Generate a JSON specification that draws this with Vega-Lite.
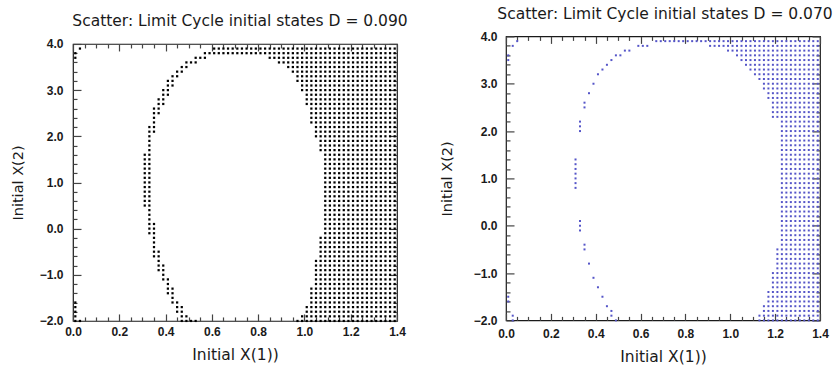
{
"$schema":"https://vega.github.io/schema/vega-lite/v6.json",
"padding":{"left":10,"top":6,"right":0,"bottom":0},
"spacing":29,
"center":true,
"config":{
"view":{"stroke":"#1a1a1a","strokeWidth":1.2},
"axis":{"grid":false,"domain":false,"ticks":true,"tickColor":"#444","tickWidth":1.2,"tickOpacity":1,"labelFont":"Liberation Sans","labelFontSize":12,"labelFontWeight":"bold","labelColor":"#1a1a1a","labelFlush":false,"labelOverlap":false,"titleFont":"DejaVu Sans","titleFontWeight":"normal","titleColor":"#1a1a1a","titleFontSize":15.5},
"title":{"font":"DejaVu Sans","fontSize":15.5,"fontWeight":"normal","color":"#1a1a1a","anchor":"middle"}
},
"datasets":{
"none":[],
"L":[
{"y":3.9,"x":[0.03,0.61,0.63,0.65,0.67,0.69,0.71,0.73,0.75,0.77,0.79,0.81,0.83,0.85,0.87,0.89,0.91,0.93,0.95,0.97,0.99,1.01,1.03,1.05,1.07,1.09,1.11,1.13,1.15,1.17,1.19,1.21,1.23,1.25,1.27,1.29,1.31,1.33,1.35,1.37,1.39]},
{"y":3.8,"x":[0.01,0.57,0.59,0.61,0.63,0.65,0.67,0.69,0.71,0.73,0.75,0.77,0.79,0.81,0.83,0.85,0.87,0.89,0.91,0.93,0.95,0.97,0.99,1.01,1.03,1.05,1.07,1.09,1.11,1.13,1.15,1.17,1.19,1.21,1.23,1.25,1.27,1.29,1.31,1.33,1.35,1.37,1.39]},
{"y":3.7,"x":[0.01,0.53,0.55,0.57,0.85,0.87,0.89,0.91,0.93,0.95,0.97,0.99,1.01,1.03,1.05,1.07,1.09,1.11,1.13,1.15,1.17,1.19,1.21,1.23,1.25,1.27,1.29,1.31,1.33,1.35,1.37,1.39]},
{"y":3.6,"x":[0.49,0.51,0.53,0.89,0.91,0.93,0.95,0.97,0.99,1.01,1.03,1.05,1.07,1.09,1.11,1.13,1.15,1.17,1.19,1.21,1.23,1.25,1.27,1.29,1.31,1.33,1.35,1.37,1.39]},
{"y":3.5,"x":[0.47,0.49,0.93,0.95,0.97,0.99,1.01,1.03,1.05,1.07,1.09,1.11,1.13,1.15,1.17,1.19,1.21,1.23,1.25,1.27,1.29,1.31,1.33,1.35,1.37,1.39]},
{"y":3.4,"x":[0.45,0.47,0.95,0.97,0.99,1.01,1.03,1.05,1.07,1.09,1.11,1.13,1.15,1.17,1.19,1.21,1.23,1.25,1.27,1.29,1.31,1.33,1.35,1.37,1.39]},
{"y":3.3,"x":[0.43,0.45,0.97,0.99,1.01,1.03,1.05,1.07,1.09,1.11,1.13,1.15,1.17,1.19,1.21,1.23,1.25,1.27,1.29,1.31,1.33,1.35,1.37,1.39]},
{"y":3.2,"x":[0.41,0.43,0.97,0.99,1.01,1.03,1.05,1.07,1.09,1.11,1.13,1.15,1.17,1.19,1.21,1.23,1.25,1.27,1.29,1.31,1.33,1.35,1.37,1.39]},
{"y":3.1,"x":[0.41,0.43,0.99,1.01,1.03,1.05,1.07,1.09,1.11,1.13,1.15,1.17,1.19,1.21,1.23,1.25,1.27,1.29,1.31,1.33,1.35,1.37,1.39]},
{"y":3.0,"x":[0.39,0.41,0.99,1.01,1.03,1.05,1.07,1.09,1.11,1.13,1.15,1.17,1.19,1.21,1.23,1.25,1.27,1.29,1.31,1.33,1.35,1.37,1.39]},
{"y":2.9,"x":[0.39,0.41,1.01,1.03,1.05,1.07,1.09,1.11,1.13,1.15,1.17,1.19,1.21,1.23,1.25,1.27,1.29,1.31,1.33,1.35,1.37,1.39]},
{"y":2.8,"x":[0.37,0.39,1.01,1.03,1.05,1.07,1.09,1.11,1.13,1.15,1.17,1.19,1.21,1.23,1.25,1.27,1.29,1.31,1.33,1.35,1.37,1.39]},
{"y":2.7,"x":[0.37,0.39,1.01,1.03,1.05,1.07,1.09,1.11,1.13,1.15,1.17,1.19,1.21,1.23,1.25,1.27,1.29,1.31,1.33,1.35,1.37,1.39]},
{"y":2.6,"x":[0.35,0.37,1.03,1.05,1.07,1.09,1.11,1.13,1.15,1.17,1.19,1.21,1.23,1.25,1.27,1.29,1.31,1.33,1.35,1.37,1.39]},
{"y":2.5,"x":[0.35,0.37,1.03,1.05,1.07,1.09,1.11,1.13,1.15,1.17,1.19,1.21,1.23,1.25,1.27,1.29,1.31,1.33,1.35,1.37,1.39]},
{"y":2.4,"x":[0.35,1.03,1.05,1.07,1.09,1.11,1.13,1.15,1.17,1.19,1.21,1.23,1.25,1.27,1.29,1.31,1.33,1.35,1.37,1.39]},
{"y":2.3,"x":[0.35,1.03,1.05,1.07,1.09,1.11,1.13,1.15,1.17,1.19,1.21,1.23,1.25,1.27,1.29,1.31,1.33,1.35,1.37,1.39]},
{"y":2.2,"x":[0.33,0.35,1.05,1.07,1.09,1.11,1.13,1.15,1.17,1.19,1.21,1.23,1.25,1.27,1.29,1.31,1.33,1.35,1.37,1.39]},
{"y":2.1,"x":[0.33,0.35,1.05,1.07,1.09,1.11,1.13,1.15,1.17,1.19,1.21,1.23,1.25,1.27,1.29,1.31,1.33,1.35,1.37,1.39]},
{"y":2.0,"x":[0.33,1.05,1.07,1.09,1.11,1.13,1.15,1.17,1.19,1.21,1.23,1.25,1.27,1.29,1.31,1.33,1.35,1.37,1.39]},
{"y":1.9,"x":[0.33,1.07,1.09,1.11,1.13,1.15,1.17,1.19,1.21,1.23,1.25,1.27,1.29,1.31,1.33,1.35,1.37,1.39]},
{"y":1.8,"x":[0.33,1.07,1.09,1.11,1.13,1.15,1.17,1.19,1.21,1.23,1.25,1.27,1.29,1.31,1.33,1.35,1.37,1.39]},
{"y":1.7,"x":[0.33,1.07,1.09,1.11,1.13,1.15,1.17,1.19,1.21,1.23,1.25,1.27,1.29,1.31,1.33,1.35,1.37,1.39]},
{"y":1.6,"x":[0.31,0.33,1.09,1.11,1.13,1.15,1.17,1.19,1.21,1.23,1.25,1.27,1.29,1.31,1.33,1.35,1.37,1.39]},
{"y":1.5,"x":[0.31,0.33,1.09,1.11,1.13,1.15,1.17,1.19,1.21,1.23,1.25,1.27,1.29,1.31,1.33,1.35,1.37,1.39]},
{"y":1.4,"x":[0.31,0.33,1.09,1.11,1.13,1.15,1.17,1.19,1.21,1.23,1.25,1.27,1.29,1.31,1.33,1.35,1.37,1.39]},
{"y":1.3,"x":[0.31,0.33,1.09,1.11,1.13,1.15,1.17,1.19,1.21,1.23,1.25,1.27,1.29,1.31,1.33,1.35,1.37,1.39]},
{"y":1.2,"x":[0.31,0.33,1.09,1.11,1.13,1.15,1.17,1.19,1.21,1.23,1.25,1.27,1.29,1.31,1.33,1.35,1.37,1.39]},
{"y":1.1,"x":[0.31,0.33,1.09,1.11,1.13,1.15,1.17,1.19,1.21,1.23,1.25,1.27,1.29,1.31,1.33,1.35,1.37,1.39]},
{"y":1.0,"x":[0.31,0.33,1.09,1.11,1.13,1.15,1.17,1.19,1.21,1.23,1.25,1.27,1.29,1.31,1.33,1.35,1.37,1.39]},
{"y":0.9,"x":[0.31,0.33,1.09,1.11,1.13,1.15,1.17,1.19,1.21,1.23,1.25,1.27,1.29,1.31,1.33,1.35,1.37,1.39]},
{"y":0.8,"x":[0.31,0.33,1.09,1.11,1.13,1.15,1.17,1.19,1.21,1.23,1.25,1.27,1.29,1.31,1.33,1.35,1.37,1.39]},
{"y":0.7,"x":[0.31,0.33,1.09,1.11,1.13,1.15,1.17,1.19,1.21,1.23,1.25,1.27,1.29,1.31,1.33,1.35,1.37,1.39]},
{"y":0.6,"x":[0.31,0.33,1.09,1.11,1.13,1.15,1.17,1.19,1.21,1.23,1.25,1.27,1.29,1.31,1.33,1.35,1.37,1.39]},
{"y":0.5,"x":[0.31,0.33,1.09,1.11,1.13,1.15,1.17,1.19,1.21,1.23,1.25,1.27,1.29,1.31,1.33,1.35,1.37,1.39]},
{"y":0.4,"x":[0.33,1.09,1.11,1.13,1.15,1.17,1.19,1.21,1.23,1.25,1.27,1.29,1.31,1.33,1.35,1.37,1.39]},
{"y":0.3,"x":[0.33,1.09,1.11,1.13,1.15,1.17,1.19,1.21,1.23,1.25,1.27,1.29,1.31,1.33,1.35,1.37,1.39]},
{"y":0.2,"x":[0.33,1.09,1.11,1.13,1.15,1.17,1.19,1.21,1.23,1.25,1.27,1.29,1.31,1.33,1.35,1.37,1.39]},
{"y":0.1,"x":[0.33,0.35,1.09,1.11,1.13,1.15,1.17,1.19,1.21,1.23,1.25,1.27,1.29,1.31,1.33,1.35,1.37,1.39]},
{"y":0,"x":[0.33,0.35,1.09,1.11,1.13,1.15,1.17,1.19,1.21,1.23,1.25,1.27,1.29,1.31,1.33,1.35,1.37,1.39]},
{"y":-0.1,"x":[0.33,0.35,1.09,1.11,1.13,1.15,1.17,1.19,1.21,1.23,1.25,1.27,1.29,1.31,1.33,1.35,1.37,1.39]},
{"y":-0.2,"x":[0.35,1.07,1.09,1.11,1.13,1.15,1.17,1.19,1.21,1.23,1.25,1.27,1.29,1.31,1.33,1.35,1.37,1.39]},
{"y":-0.3,"x":[0.35,1.07,1.09,1.11,1.13,1.15,1.17,1.19,1.21,1.23,1.25,1.27,1.29,1.31,1.33,1.35,1.37,1.39]},
{"y":-0.4,"x":[0.35,1.07,1.09,1.11,1.13,1.15,1.17,1.19,1.21,1.23,1.25,1.27,1.29,1.31,1.33,1.35,1.37,1.39]},
{"y":-0.5,"x":[0.35,0.37,1.07,1.09,1.11,1.13,1.15,1.17,1.19,1.21,1.23,1.25,1.27,1.29,1.31,1.33,1.35,1.37,1.39]},
{"y":-0.6,"x":[0.35,0.37,1.07,1.09,1.11,1.13,1.15,1.17,1.19,1.21,1.23,1.25,1.27,1.29,1.31,1.33,1.35,1.37,1.39]},
{"y":-0.7,"x":[0.37,1.05,1.07,1.09,1.11,1.13,1.15,1.17,1.19,1.21,1.23,1.25,1.27,1.29,1.31,1.33,1.35,1.37,1.39]},
{"y":-0.8,"x":[0.37,0.39,1.05,1.07,1.09,1.11,1.13,1.15,1.17,1.19,1.21,1.23,1.25,1.27,1.29,1.31,1.33,1.35,1.37,1.39]},
{"y":-0.9,"x":[0.37,0.39,1.05,1.07,1.09,1.11,1.13,1.15,1.17,1.19,1.21,1.23,1.25,1.27,1.29,1.31,1.33,1.35,1.37,1.39]},
{"y":-1.0,"x":[0.39,1.05,1.07,1.09,1.11,1.13,1.15,1.17,1.19,1.21,1.23,1.25,1.27,1.29,1.31,1.33,1.35,1.37,1.39]},
{"y":-1.1,"x":[0.39,0.41,1.05,1.07,1.09,1.11,1.13,1.15,1.17,1.19,1.21,1.23,1.25,1.27,1.29,1.31,1.33,1.35,1.37,1.39]},
{"y":-1.2,"x":[0.41,1.05,1.07,1.09,1.11,1.13,1.15,1.17,1.19,1.21,1.23,1.25,1.27,1.29,1.31,1.33,1.35,1.37,1.39]},
{"y":-1.3,"x":[0.41,0.43,1.03,1.05,1.07,1.09,1.11,1.13,1.15,1.17,1.19,1.21,1.23,1.25,1.27,1.29,1.31,1.33,1.35,1.37,1.39]},
{"y":-1.4,"x":[0.41,0.43,1.03,1.05,1.07,1.09,1.11,1.13,1.15,1.17,1.19,1.21,1.23,1.25,1.27,1.29,1.31,1.33,1.35,1.37,1.39]},
{"y":-1.5,"x":[0.43,1.03,1.05,1.07,1.09,1.11,1.13,1.15,1.17,1.19,1.21,1.23,1.25,1.27,1.29,1.31,1.33,1.35,1.37,1.39]},
{"y":-1.6,"x":[0.01,0.43,0.45,1.03,1.05,1.07,1.09,1.11,1.13,1.15,1.17,1.19,1.21,1.23,1.25,1.27,1.29,1.31,1.33,1.35,1.37,1.39]},
{"y":-1.7,"x":[0.01,0.45,0.47,1.01,1.03,1.05,1.07,1.09,1.11,1.13,1.15,1.17,1.19,1.21,1.23,1.25,1.27,1.29,1.31,1.33,1.35,1.37,1.39]},
{"y":-1.8,"x":[0.01,0.45,0.47,1.01,1.03,1.05,1.07,1.09,1.11,1.13,1.15,1.17,1.19,1.21,1.23,1.25,1.27,1.29,1.31,1.33,1.35,1.37,1.39]},
{"y":-1.9,"x":[0.01,0.47,0.49,0.99,1.01,1.03,1.05,1.07,1.09,1.11,1.13,1.15,1.17,1.19,1.21,1.23,1.25,1.27,1.29,1.31,1.33,1.35,1.37,1.39]},
{"y":-2.0,"x":[0.01,0.03,0.47,0.49,0.51,0.53,0.97,0.99,1.01,1.03,1.05,1.07,1.09,1.11,1.13,1.15,1.17,1.19,1.21,1.23,1.25,1.27,1.29,1.31,1.33,1.35,1.37,1.39]}
],
"R":[
{"y":3.9,"x":[0.05,0.67,0.69,0.71,0.73,0.75,0.77,0.79,0.81,0.83,0.85,0.87,0.89,0.91,0.93,0.95,0.97,0.99,1.01,1.03,1.05,1.07,1.09,1.11,1.13,1.15,1.17,1.19,1.21,1.23,1.25,1.27,1.29,1.31,1.33,1.35,1.37,1.39]},
{"y":3.8,"x":[0.03,0.59,0.61,0.63,0.91,0.93,0.95,0.97,0.99,1.01,1.03,1.05,1.07,1.09,1.11,1.13,1.15,1.17,1.19,1.21,1.23,1.25,1.27,1.29,1.31,1.33,1.35,1.37,1.39]},
{"y":3.7,"x":[0.53,0.55,0.99,1.01,1.03,1.05,1.07,1.09,1.11,1.13,1.15,1.17,1.19,1.21,1.23,1.25,1.27,1.29,1.31,1.33,1.35,1.37,1.39]},
{"y":3.6,"x":[0.01,0.49,0.51,1.03,1.05,1.07,1.09,1.11,1.13,1.15,1.17,1.19,1.21,1.23,1.25,1.27,1.29,1.31,1.33,1.35,1.37,1.39]},
{"y":3.5,"x":[0.01,0.47,1.05,1.07,1.09,1.11,1.13,1.15,1.17,1.19,1.21,1.23,1.25,1.27,1.29,1.31,1.33,1.35,1.37,1.39]},
{"y":3.4,"x":[0.45,1.07,1.09,1.11,1.13,1.15,1.17,1.19,1.21,1.23,1.25,1.27,1.29,1.31,1.33,1.35,1.37,1.39]},
{"y":3.3,"x":[0.43,1.09,1.11,1.13,1.15,1.17,1.19,1.21,1.23,1.25,1.27,1.29,1.31,1.33,1.35,1.37,1.39]},
{"y":3.2,"x":[0.41,1.11,1.13,1.15,1.17,1.19,1.21,1.23,1.25,1.27,1.29,1.31,1.33,1.35,1.37,1.39]},
{"y":3.1,"x":[1.13,1.15,1.17,1.19,1.21,1.23,1.25,1.27,1.29,1.31,1.33,1.35,1.37,1.39]},
{"y":3.0,"x":[0.39,1.15,1.17,1.19,1.21,1.23,1.25,1.27,1.29,1.31,1.33,1.35,1.37,1.39]},
{"y":2.9,"x":[1.15,1.17,1.19,1.21,1.23,1.25,1.27,1.29,1.31,1.33,1.35,1.37,1.39]},
{"y":2.8,"x":[0.37,1.17,1.19,1.21,1.23,1.25,1.27,1.29,1.31,1.33,1.35,1.37,1.39]},
{"y":2.7,"x":[1.17,1.19,1.21,1.23,1.25,1.27,1.29,1.31,1.33,1.35,1.37,1.39]},
{"y":2.6,"x":[0.35,1.19,1.21,1.23,1.25,1.27,1.29,1.31,1.33,1.35,1.37,1.39]},
{"y":2.5,"x":[0.35,1.19,1.21,1.23,1.25,1.27,1.29,1.31,1.33,1.35,1.37,1.39]},
{"y":2.4,"x":[1.19,1.21,1.23,1.25,1.27,1.29,1.31,1.33,1.35,1.37,1.39]},
{"y":2.3,"x":[1.19,1.21,1.23,1.25,1.27,1.29,1.31,1.33,1.35,1.37,1.39]},
{"y":2.2,"x":[0.33,1.23,1.25,1.27,1.29,1.31,1.33,1.35,1.37,1.39]},
{"y":2.1,"x":[0.33,1.23,1.25,1.27,1.29,1.31,1.33,1.35,1.37,1.39]},
{"y":2.0,"x":[0.33,1.23,1.25,1.27,1.29,1.31,1.33,1.35,1.37,1.39]},
{"y":1.9,"x":[1.23,1.25,1.27,1.29,1.31,1.33,1.35,1.37,1.39]},
{"y":1.8,"x":[1.23,1.25,1.27,1.29,1.31,1.33,1.35,1.37,1.39]},
{"y":1.7,"x":[1.23,1.25,1.27,1.29,1.31,1.33,1.35,1.37,1.39]},
{"y":1.6,"x":[1.23,1.25,1.27,1.29,1.31,1.33,1.35,1.37,1.39]},
{"y":1.5,"x":[1.23,1.25,1.27,1.29,1.31,1.33,1.35,1.37,1.39]},
{"y":1.4,"x":[0.31,1.23,1.25,1.27,1.29,1.31,1.33,1.35,1.37,1.39]},
{"y":1.3,"x":[0.31,1.23,1.25,1.27,1.29,1.31,1.33,1.35,1.37,1.39]},
{"y":1.2,"x":[0.31,1.23,1.25,1.27,1.29,1.31,1.33,1.35,1.37,1.39]},
{"y":1.1,"x":[0.31,1.23,1.25,1.27,1.29,1.31,1.33,1.35,1.37,1.39]},
{"y":1.0,"x":[0.31,1.23,1.25,1.27,1.29,1.31,1.33,1.35,1.37,1.39]},
{"y":0.9,"x":[0.31,1.23,1.25,1.27,1.29,1.31,1.33,1.35,1.37,1.39]},
{"y":0.8,"x":[0.31,1.23,1.25,1.27,1.29,1.31,1.33,1.35,1.37,1.39]},
{"y":0.7,"x":[1.23,1.25,1.27,1.29,1.31,1.33,1.35,1.37,1.39]},
{"y":0.6,"x":[1.23,1.25,1.27,1.29,1.31,1.33,1.35,1.37,1.39]},
{"y":0.5,"x":[1.23,1.25,1.27,1.29,1.31,1.33,1.35,1.37,1.39]},
{"y":0.4,"x":[1.23,1.25,1.27,1.29,1.31,1.33,1.35,1.37,1.39]},
{"y":0.3,"x":[1.23,1.25,1.27,1.29,1.31,1.33,1.35,1.37,1.39]},
{"y":0.2,"x":[1.23,1.25,1.27,1.29,1.31,1.33,1.35,1.37,1.39]},
{"y":0.1,"x":[0.33,1.23,1.25,1.27,1.29,1.31,1.33,1.35,1.37,1.39]},
{"y":0,"x":[0.33,1.23,1.25,1.27,1.29,1.31,1.33,1.35,1.37,1.39]},
{"y":-0.1,"x":[0.33,1.23,1.25,1.27,1.29,1.31,1.33,1.35,1.37,1.39]},
{"y":-0.2,"x":[1.23,1.25,1.27,1.29,1.31,1.33,1.35,1.37,1.39]},
{"y":-0.3,"x":[1.23,1.25,1.27,1.29,1.31,1.33,1.35,1.37,1.39]},
{"y":-0.4,"x":[0.35,1.23,1.25,1.27,1.29,1.31,1.33,1.35,1.37,1.39]},
{"y":-0.5,"x":[0.35,1.21,1.23,1.25,1.27,1.29,1.31,1.33,1.35,1.37,1.39]},
{"y":-0.6,"x":[1.21,1.23,1.25,1.27,1.29,1.31,1.33,1.35,1.37,1.39]},
{"y":-0.7,"x":[1.21,1.23,1.25,1.27,1.29,1.31,1.33,1.35,1.37,1.39]},
{"y":-0.8,"x":[0.37,1.21,1.23,1.25,1.27,1.29,1.31,1.33,1.35,1.37,1.39]},
{"y":-0.9,"x":[1.21,1.23,1.25,1.27,1.29,1.31,1.33,1.35,1.37,1.39]},
{"y":-1.0,"x":[1.19,1.21,1.23,1.25,1.27,1.29,1.31,1.33,1.35,1.37,1.39]},
{"y":-1.1,"x":[0.39,1.19,1.21,1.23,1.25,1.27,1.29,1.31,1.33,1.35,1.37,1.39]},
{"y":-1.2,"x":[1.19,1.21,1.23,1.25,1.27,1.29,1.31,1.33,1.35,1.37,1.39]},
{"y":-1.3,"x":[0.41,1.19,1.21,1.23,1.25,1.27,1.29,1.31,1.33,1.35,1.37,1.39]},
{"y":-1.4,"x":[1.17,1.19,1.21,1.23,1.25,1.27,1.29,1.31,1.33,1.35,1.37,1.39]},
{"y":-1.5,"x":[0.01,0.43,1.17,1.19,1.21,1.23,1.25,1.27,1.29,1.31,1.33,1.35,1.37,1.39]},
{"y":-1.6,"x":[0.01,1.17,1.19,1.21,1.23,1.25,1.27,1.29,1.31,1.33,1.35,1.37,1.39]},
{"y":-1.7,"x":[0.45,1.15,1.17,1.19,1.21,1.23,1.25,1.27,1.29,1.31,1.33,1.35,1.37,1.39]},
{"y":-1.8,"x":[0.47,1.15,1.17,1.19,1.21,1.23,1.25,1.27,1.29,1.31,1.33,1.35,1.37,1.39]},
{"y":-1.9,"x":[0.03,0.47,1.13,1.15,1.17,1.19,1.21,1.23,1.25,1.27,1.29,1.31,1.33,1.35,1.37,1.39]},
{"y":-2.0,"x":[0.03,0.49,1.13,1.15,1.17,1.19,1.21,1.23,1.25,1.27,1.29,1.31,1.33,1.35,1.37,1.39]}
]
},
"hconcat":[
{
"width":324,"height":277,
"title":{"text":"Scatter: Limit Cycle initial states D = 0.090","offset":8,"dx":5},
"resolve":{"axis":{"x":"independent","y":"independent"}},
"layer":[
{"data":{"name":"L"},"transform":[{"flatten":["x"]}],
"mark":{"type":"square","size":5,"color":"#000","opacity":1},
"encoding":{
"x":{"field":"x","type":"quantitative","scale":{"domain":[0,1.4],"nice":false,"zero":false},"axis":{"orient":"bottom","offset":-7,"tickSize":7,"values":[0,0.2,0.4,0.6,0.8,1,1.2,1.4],"format":".1f","labelPadding":6,"title":"Initial X(1))","titlePadding":10}},
"y":{"field":"y","type":"quantitative","scale":{"domain":[-2,4],"nice":false,"zero":false},"axis":{"orient":"left","offset":-8,"tickSize":8,"values":[-2,-1,0,1,2,3,4],"format":".1f","labelPadding":10,"title":"Initial X(2)","titlePadding":13.5,"titleFontSize":14.5}}
}},
{"data":{"name":"none"},"mark":"point",
"encoding":{
"x":{"field":"x","type":"quantitative","scale":{"domain":[0,1.4],"nice":false,"zero":false},"axis":{"orient":"bottom","offset":-4,"tickSize":4,"values":[0.05,0.1,0.15,0.25,0.3,0.35,0.45,0.5,0.55,0.65,0.7,0.75,0.85,0.9,0.95,1.05,1.1,1.15,1.25,1.3,1.35],"labels":false,"title":null}},
"y":{"field":"y","type":"quantitative","scale":{"domain":[-2,4],"nice":false,"zero":false},"axis":{"orient":"left","offset":-4,"tickSize":4,"values":[-1.8,-1.6,-1.4,-1.2,-0.8,-0.6,-0.4,-0.2,0.2,0.4,0.6,0.8,1.2,1.4,1.6,1.8,2.2,2.4,2.6,2.8,3.2,3.4,3.6,3.8],"labels":false,"title":null}}
}},
{"data":{"name":"none"},"mark":"point",
"encoding":{
"x":{"field":"x","type":"quantitative","scale":{"domain":[0,1.4],"nice":false,"zero":false},"axis":{"orient":"top","offset":-7,"tickSize":7,"values":[0,0.2,0.4,0.6,0.8,1,1.2,1.4],"labels":false,"title":null}},
"y":{"field":"y","type":"quantitative","scale":{"domain":[-2,4],"nice":false,"zero":false},"axis":{"orient":"right","offset":-8,"tickSize":8,"values":[-2,-1,0,1,2,3,4],"labels":false,"title":null}}
}},
{"data":{"name":"none"},"mark":"point",
"encoding":{
"x":{"field":"x","type":"quantitative","scale":{"domain":[0,1.4],"nice":false,"zero":false},"axis":{"orient":"top","offset":-4,"tickSize":4,"values":[0.05,0.1,0.15,0.25,0.3,0.35,0.45,0.5,0.55,0.65,0.7,0.75,0.85,0.9,0.95,1.05,1.1,1.15,1.25,1.3,1.35],"labels":false,"title":null}},
"y":{"field":"y","type":"quantitative","scale":{"domain":[-2,4],"nice":false,"zero":false},"axis":{"orient":"right","offset":-4,"tickSize":4,"values":[-1.8,-1.6,-1.4,-1.2,-0.8,-0.6,-0.4,-0.2,0.2,0.4,0.6,0.8,1.2,1.4,1.6,1.8,2.2,2.4,2.6,2.8,3.2,3.4,3.6,3.8],"labels":false,"title":null}}
}}
]
},
{
"width":314,"height":284,
"title":{"text":"Scatter: Limit Cycle initial states D = 0.070","offset":8,"dx":2},
"resolve":{"axis":{"x":"independent","y":"independent"}},
"layer":[
{"data":{"name":"R"},"transform":[{"flatten":["x"]}],
"mark":{"type":"square","size":4,"color":"#5555c8","opacity":1},
"encoding":{
"x":{"field":"x","type":"quantitative","scale":{"domain":[0,1.4],"nice":false,"zero":false},"axis":{"orient":"bottom","offset":-7,"tickSize":7,"values":[0,0.2,0.4,0.6,0.8,1,1.2,1.4],"format":".1f","labelPadding":8.5,"title":"Initial X(1))","titlePadding":10}},
"y":{"field":"y","type":"quantitative","scale":{"domain":[-2,4],"nice":false,"zero":false},"axis":{"orient":"left","offset":-8,"tickSize":8,"values":[-2,-1,0,1,2,3,4],"format":".1f","labelPadding":9,"title":"Initial X(2)","titlePadding":19,"titleFontSize":14.5}}
}},
{"data":{"name":"none"},"mark":"point",
"encoding":{
"x":{"field":"x","type":"quantitative","scale":{"domain":[0,1.4],"nice":false,"zero":false},"axis":{"orient":"bottom","offset":-4,"tickSize":4,"values":[0.05,0.1,0.15,0.25,0.3,0.35,0.45,0.5,0.55,0.65,0.7,0.75,0.85,0.9,0.95,1.05,1.1,1.15,1.25,1.3,1.35],"labels":false,"title":" ","titlePadding":34.5}},
"y":{"field":"y","type":"quantitative","scale":{"domain":[-2,4],"nice":false,"zero":false},"axis":{"orient":"left","offset":-4,"tickSize":4,"values":[-1.8,-1.6,-1.4,-1.2,-0.8,-0.6,-0.4,-0.2,0.2,0.4,0.6,0.8,1.2,1.4,1.6,1.8,2.2,2.4,2.6,2.8,3.2,3.4,3.6,3.8],"labels":false,"title":null}}
}},
{"data":{"name":"none"},"mark":"point",
"encoding":{
"x":{"field":"x","type":"quantitative","scale":{"domain":[0,1.4],"nice":false,"zero":false},"axis":{"orient":"top","offset":-7,"tickSize":7,"values":[0,0.2,0.4,0.6,0.8,1,1.2,1.4],"labels":false,"title":null}},
"y":{"field":"y","type":"quantitative","scale":{"domain":[-2,4],"nice":false,"zero":false},"axis":{"orient":"right","offset":-8,"tickSize":8,"values":[-2,-1,0,1,2,3,4],"labels":false,"title":null}}
}},
{"data":{"name":"none"},"mark":"point",
"encoding":{
"x":{"field":"x","type":"quantitative","scale":{"domain":[0,1.4],"nice":false,"zero":false},"axis":{"orient":"top","offset":-4,"tickSize":4,"values":[0.05,0.1,0.15,0.25,0.3,0.35,0.45,0.5,0.55,0.65,0.7,0.75,0.85,0.9,0.95,1.05,1.1,1.15,1.25,1.3,1.35],"labels":false,"title":null}},
"y":{"field":"y","type":"quantitative","scale":{"domain":[-2,4],"nice":false,"zero":false},"axis":{"orient":"right","offset":-4,"tickSize":4,"values":[-1.8,-1.6,-1.4,-1.2,-0.8,-0.6,-0.4,-0.2,0.2,0.4,0.6,0.8,1.2,1.4,1.6,1.8,2.2,2.4,2.6,2.8,3.2,3.4,3.6,3.8],"labels":false,"title":null}}
}}
]
}
]
}
